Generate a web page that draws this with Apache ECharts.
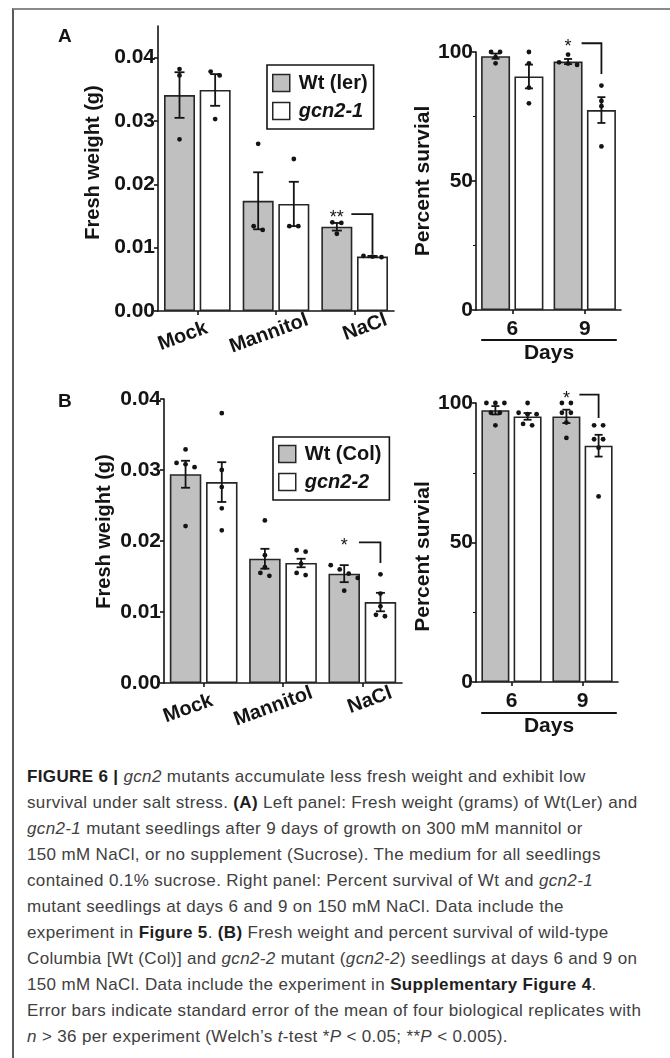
<!DOCTYPE html>
<html><head><meta charset="utf-8">
<script src="https://cdn.jsdelivr.net/npm/echarts@6/dist/echarts.min.js"></script>
<style>
html,body{margin:0;padding:0;background:#fff;}
#frame{position:absolute;left:12px;top:8px;width:720px;height:1100px;border-top:2px solid #8a8a8a;border-left:2px solid #5a5a5a;box-sizing:border-box;}
#chart{position:absolute;left:0;top:0;width:670px;height:760px;}
#caption{position:absolute;left:27px;top:764px;font-family:'Liberation Sans',Arial,Helvetica,sans-serif;font-size:17px;letter-spacing:0.35px;line-height:26px;color:#404040;white-space:nowrap;}
#caption b{color:#1e1e1e;}
</style></head><body>
<div id="frame"></div>
<div id="chart"></div>
<div id="caption"><b>FIGURE 6 |</b> <i>gcn2</i> mutants accumulate less fresh weight and exhibit low<br>survival under salt stress. <b>(A)</b> Left panel: Fresh weight (grams) of Wt(Ler) and<br><i>gcn2-1</i> mutant seedlings after 9 days of growth on 300 mM mannitol or<br>150 mM NaCl, or no supplement (Sucrose). The medium for all seedlings<br>contained 0.1% sucrose. Right panel: Percent survival of Wt and <i>gcn2-1</i><br>mutant seedlings at days 6 and 9 on 150 mM NaCl. Data include the<br>experiment in <b>Figure 5</b>. <b>(B)</b> Fresh weight and percent survival of wild-type<br>Columbia [Wt (Col)] and <i>gcn2-2</i> mutant (<i>gcn2-2</i>) seedlings at days 6 and 9 on<br>150 mM NaCl. Data include the experiment in <b>Supplementary Figure 4</b>.<br>Error bars indicate standard error of the mean of four biological replicates with<br><i>n</i> &gt; 36 per experiment (Welch’s <i>t</i>-test *<i>P</i> &lt; 0.05; **<i>P</i> &lt; 0.005).</div>
<script>
// ---------------- data ----------------
const catsFW = ['Mock', 'Mannitol', 'NaCl'];
const catsDays = ['6', '9'];
const fwTicks = [0, 0.01, 0.02, 0.03, 0.04];
const psTicks = [0, 50, 100];

// Panel A – fresh weight (g)
const fwA_wt_mean = [0.0341, 0.0174, 0.0133];
const fwA_wt_se   = [0.0036, 0.0045, 0.0006];
const fwA_wt_pts  = [[0.0382, 0.0372, 0.0271], [0.0264, 0.0128, 0.0134], [0.0140, 0.0139, 0.0122]];
const fwA_mu_mean = [0.0349, 0.0169, 0.0086];
const fwA_mu_se   = [0.0025, 0.0035, 0.0001];
const fwA_mu_pts  = [[0.0378, 0.0372, 0.0303], [0.0240, 0.0134, 0.0134], [0.0087, 0.0086, 0.0085]];
// Panel A – percent survival
const psA_wt_mean = [98.4, 96.3];
const psA_wt_se   = [1.0, 1.0];
const psA_wt_pts  = [[100, 100, 98, 95.6], [99, 96, 95.5, 95]];
const psA_mu_mean = [90.5, 77.5];
const psA_mu_se   = [4.6, 5.0];
const psA_mu_pts  = [[100, 95.6, 86.2, 80.1], [87, 81, 79, 63.4]];

// Panel B – fresh weight (g)
const fwB_wt_mean = [0.0294, 0.0175, 0.0154];
const fwB_wt_se   = [0.0019, 0.0014, 0.0012];
const fwB_wt_pts  = [[0.0329, 0.0310, 0.0308, 0.0304, 0.0221], [0.0229, 0.0180, 0.0163, 0.0155, 0.0151], [0.0166, 0.0160, 0.0154, 0.0148, 0.0130]];
const fwB_mu_mean = [0.0283, 0.0169, 0.0114];
const fwB_mu_se   = [0.0028, 0.0006, 0.0013];
const fwB_mu_pts  = [[0.0380, 0.0300, 0.0276, 0.0246, 0.0215], [0.0187, 0.0185, 0.0168, 0.0155, 0.0152], [0.0153, 0.0126, 0.0108, 0.0096, 0.0094]];
// Panel B – percent survival
const psB_wt_mean = [97.4, 95.2];
const psB_wt_se   = [1.5, 2.4];
const psB_wt_pts  = [[100, 100, 100, 96.5, 96.5, 92], [100, 100, 96.5, 96.5, 93, 87.5]];
const psB_mu_mean = [95.2, 84.7];
const psB_mu_se   = [1.2, 3.9];
const psB_mu_pts  = [[100, 96.5, 96, 96, 92.5, 92], [92, 92, 87, 87, 84, 66.5]];

// significance brackets: [category index, bracket level, bracket end], label
const sigA_fw = [2, 0.0153, 0.0090]; const sigA_fw_label = '**';
const sigA_ps = [1, 103.4, 91.5];    const sigA_ps_label = '*';
const sigB_fw = [2, 0.0198, 0.0169]; const sigB_fw_label = '*';
const sigB_ps = [1, 103.0, 94.6];    const sigB_ps_label = '*';

const namesA = ['Wt (ler)', 'gcn2-1'];
const namesB = ['Wt (Col)', 'gcn2-2'];

// ---------------- styling ----------------
const FONT = "'Liberation Sans', Arial, Helvetica, sans-serif";
const INK = '#141414';
const GRAY = '#c0c0c0';
const GAP = '15%';

function swarmOffsets(ys, spacing, thr) {
  const idx = ys.map((y, i) => i).sort((a, b) => ys[a] - ys[b]);
  const off = new Array(ys.length).fill(0);
  let cl = [idx[0]];
  const flush = () => { const n = cl.length; cl.forEach((k, j) => { off[k] = (j - (n - 1) / 2) * spacing; }); };
  for (let j = 1; j < idx.length; j++) {
    if (ys[idx[j]] - ys[idx[j - 1]] < thr) cl.push(idx[j]); else { flush(); cl = [idx[j]]; }
  }
  flush();
  return off;
}

function sideCenter(api, side, bw) {
  let lay = null;
  try { lay = api.barLayout({ barWidth: bw, barGap: GAP, count: 2 }); } catch (e) { lay = null; }
  if (lay && lay[side] && isFinite(lay[side].offsetCenter)) return lay[side].offsetCenter;
  return (side ? 1 : -1) * bw * 1.15 / 2;
}

function barSeries(g, name, data, bw, fill) {
  return {
    type: 'bar', name: name, xAxisIndex: g, yAxisIndex: g, data: data,
    barWidth: bw, barGap: GAP, z: 2, silent: true,
    itemStyle: { color: fill, borderColor: '#262626', borderWidth: 1.6 }
  };
}

function errSeries(g, means, ses, pts, side, bw, capW) {
  return {
    type: 'custom', xAxisIndex: g, yAxisIndex: g, z: 5, silent: true,
    data: means.map((m, i) => [i, m, ses[i]]),
    renderItem: function (params, api) {
      const i = api.value(0), m = api.value(1), se = api.value(2);
      const cx = api.coord([i, m])[0] + sideCenter(api, side, bw);
      const yt = api.coord([i, m + se])[1], yb = api.coord([i, m - se])[1];
      const vals = pts[params.dataIndex];
      const ys = vals.map(v => api.coord([i, v])[1]);
      const offs = swarmOffsets(ys, 9, 5);
      const ch = [];
      ys.forEach((y, k) => ch.push({ type: 'circle', shape: { cx: cx + offs[k], cy: y, r: 2.4 }, style: { fill: INK } }));
      ch.push({ type: 'line', shape: { x1: cx, y1: yt, x2: cx, y2: yb }, style: { stroke: INK, lineWidth: 1.8 } });
      ch.push({ type: 'line', shape: { x1: cx - capW / 2, y1: yt, x2: cx + capW / 2, y2: yt }, style: { stroke: INK, lineWidth: 1.8 } });
      ch.push({ type: 'line', shape: { x1: cx - capW / 2, y1: yb, x2: cx + capW / 2, y2: yb }, style: { stroke: INK, lineWidth: 1.8 } });
      return { type: 'group', children: ch };
    }
  };
}

function sigSeries(g, sig, label, bw) {
  return {
    type: 'custom', xAxisIndex: g, yAxisIndex: g, z: 6, silent: true, clip: false,
    data: [sig],
    renderItem: function (params, api) {
      const i = api.value(0), top = api.value(1), end = api.value(2);
      const c = api.coord([i, top]);
      const xw = c[0] + sideCenter(api, 0, bw), xm = c[0] + sideCenter(api, 1, bw);
      const yEnd = api.coord([i, end])[1];
      return { type: 'group', children: [
        { type: 'text', style: { text: label, x: xw, y: c[1] + 4, align: 'center', verticalAlign: 'middle', font: '18px ' + FONT, fill: INK } },
        { type: 'polyline', shape: { points: [[xw + bw / 2 - 1, c[1]], [xm, c[1]], [xm, yEnd]] }, style: { stroke: INK, lineWidth: 1.8, fill: null } }
      ] };
    }
  };
}

const axisLine = { show: true, lineStyle: { color: INK, width: 1.6 } };
const tickStyle = { color: INK, width: 1.6 };
const labelFont = { fontFamily: FONT, fontWeight: 'bold', color: INK };

function catLabels(cats, shifts) {
  return cats.map((c, k) => {
    const s = shifts[k];
    return { value: c, textStyle: { align: 'center', verticalAlign: 'middle',
      padding: s >= 0 ? [0, 0, 0, 2 * s] : [0, -2 * s, 0, 0] } };
  });
}

function fwX(g, shifts) {
  return {
    gridIndex: g, type: 'category', data: catLabels(catsFW, shifts),
    axisLine: axisLine, axisTick: { show: true, alignWithLabel: true, length: 4, lineStyle: tickStyle },
    axisLabel: Object.assign({ rotate: 20, align: 'center', margin: 20, fontSize: 20, interval: 0 }, labelFont),
    splitLine: { show: false }
  };
}
function dayX(g) {
  return {
    gridIndex: g, type: 'category', data: catsDays,
    axisLine: axisLine, axisTick: { show: true, alignWithLabel: true, length: 4, lineStyle: tickStyle },
    axisLabel: Object.assign({ margin: 9, fontSize: 21 }, labelFont),
    splitLine: { show: false }
  };
}
function fwY(g, max, gap, pad) {
  return {
    gridIndex: g, type: 'value', min: 0, max: max, interval: 0.01,
    axisLine: axisLine,
    axisTick: { show: true, length: 4, lineStyle: tickStyle, customValues: fwTicks },
    axisLabel: Object.assign({ customValues: fwTicks, formatter: v => Number(v).toFixed(2), fontSize: 21, margin: 3 }, labelFont),
    splitLine: { show: false },
    name: 'Fresh weight (g)', nameLocation: 'middle', nameGap: gap,
    nameTextStyle: Object.assign({ fontSize: 20, padding: pad }, labelFont)
  };
}
function psY(g, gap, pad) {
  return {
    gridIndex: g, type: 'value', min: 0, max: 100, interval: 50,
    axisLine: axisLine,
    axisTick: { show: true, length: 4, lineStyle: tickStyle },
    minorTick: { show: true, splitNumber: 2, length: 3, lineStyle: { color: INK, width: 1 } },
    axisLabel: Object.assign({ fontSize: 21, margin: 3 }, labelFont),
    splitLine: { show: false }, minorSplitLine: { show: false },
    name: 'Percent survial', nameLocation: 'middle', nameGap: gap,
    nameTextStyle: Object.assign({ fontSize: 21, padding: pad }, labelFont)
  };
}
function daysX(g) {
  return {
    gridIndex: g, type: 'value', min: 0, max: 1,
    axisLine: { show: true, lineStyle: { color: INK, width: 2.2 } },
    axisTick: { show: false }, axisLabel: { show: false }, splitLine: { show: false },
    name: 'Days', nameLocation: 'middle', nameGap: 3,
    nameTextStyle: Object.assign({ fontSize: 21 }, labelFont)
  };
}
function hiddenY(g) { return { gridIndex: g, type: 'value', show: false, min: 0, max: 1 }; }

function legend(names, left, top, pad) {
  return {
    orient: 'vertical', left: left, top: top, data: names, selectedMode: false,
    icon: 'rect', itemWidth: 17, itemHeight: 17, itemGap: 8,
    borderColor: INK, borderWidth: 1.6, padding: pad, borderRadius: 0,
    itemStyle: { borderColor: '#262626', borderWidth: 1.5 },
    formatter: n => n.indexOf('gcn2') === 0 ? '{i|' + n + '}' : n,
    textStyle: { fontFamily: FONT, fontWeight: 'bold', fontSize: 20, color: INK, lineHeight: 20, padding: [0, 0, 0, 4],
      rich: { i: { fontFamily: FONT, fontWeight: 'bold', fontStyle: 'italic', fontSize: 20, color: INK, lineHeight: 20 } } }
  };
}

const chart = echarts.init(document.getElementById('chart'), null, { renderer: 'canvas' });
chart.setOption({
  backgroundColor: 'transparent',
  animation: false,
  title: [
    { text: 'A', left: 53, top: 22, textStyle: { fontFamily: FONT, fontWeight: 'bold', fontSize: 19, color: INK } },
    { text: 'B', left: 53, top: 387, textStyle: { fontFamily: FONT, fontWeight: 'bold', fontSize: 19, color: INK } }
  ],
  legend: [legend(namesA, 267, 65, [8, 6, 8, 5]), legend(namesB, 273, 437, [7, 8, 8, 5])],
  grid: [
    { left: 158, top: 26, width: 236, height: 285, outerBoundsMode: 'none' },
    { left: 476, top: 52, width: 145, height: 258, outerBoundsMode: 'none' },
    { left: 164, top: 399, width: 238, height: 284, outerBoundsMode: 'none' },
    { left: 476, top: 403, width: 142, height: 279, outerBoundsMode: 'none' },
    { left: 482, top: 300, width: 134, height: 40, outerBoundsMode: 'none' },
    { left: 482, top: 672, width: 134, height: 41, outerBoundsMode: 'none' }
  ],
  xAxis: [fwX(0, [-15.5, -7.5, 11]), dayX(1), fwX(2, [-16.5, -10.5, 8]), dayX(3), daysX(4), daysX(5)],
  yAxis: [fwY(0, 0.045, 55, [0, 0, 0, 12]), psY(1, 36, [0, 0, 0, 0]), fwY(2, 0.04, 50, [0, 0, 0, 19]), psY(3, 36, [0, 28, 0, 0]), hiddenY(4), hiddenY(5)],
  series: [
    barSeries(0, namesA[0], fwA_wt_mean, 31, GRAY), barSeries(0, namesA[1], fwA_mu_mean, 31, '#ffffff'),
    barSeries(1, namesA[0], psA_wt_mean, 29, GRAY), barSeries(1, namesA[1], psA_mu_mean, 29, '#ffffff'),
    barSeries(2, namesB[0], fwB_wt_mean, 31.5, GRAY), barSeries(2, namesB[1], fwB_mu_mean, 31.5, '#ffffff'),
    barSeries(3, namesB[0], psB_wt_mean, 28, GRAY), barSeries(3, namesB[1], psB_mu_mean, 28, '#ffffff'),
    errSeries(0, fwA_wt_mean, fwA_wt_se, fwA_wt_pts, 0, 31, 10), errSeries(0, fwA_mu_mean, fwA_mu_se, fwA_mu_pts, 1, 31, 10),
    errSeries(1, psA_wt_mean, psA_wt_se, psA_wt_pts, 0, 29, 8), errSeries(1, psA_mu_mean, psA_mu_se, psA_mu_pts, 1, 29, 8),
    errSeries(2, fwB_wt_mean, fwB_wt_se, fwB_wt_pts, 0, 31.5, 9), errSeries(2, fwB_mu_mean, fwB_mu_se, fwB_mu_pts, 1, 31.5, 9),
    errSeries(3, psB_wt_mean, psB_wt_se, psB_wt_pts, 0, 28, 8), errSeries(3, psB_mu_mean, psB_mu_se, psB_mu_pts, 1, 28, 8),
    sigSeries(0, sigA_fw, sigA_fw_label, 31), sigSeries(1, sigA_ps, sigA_ps_label, 29),
    sigSeries(2, sigB_fw, sigB_fw_label, 31.5), sigSeries(3, sigB_ps, sigB_ps_label, 28)
  ]
});
</script>
</body></html>
